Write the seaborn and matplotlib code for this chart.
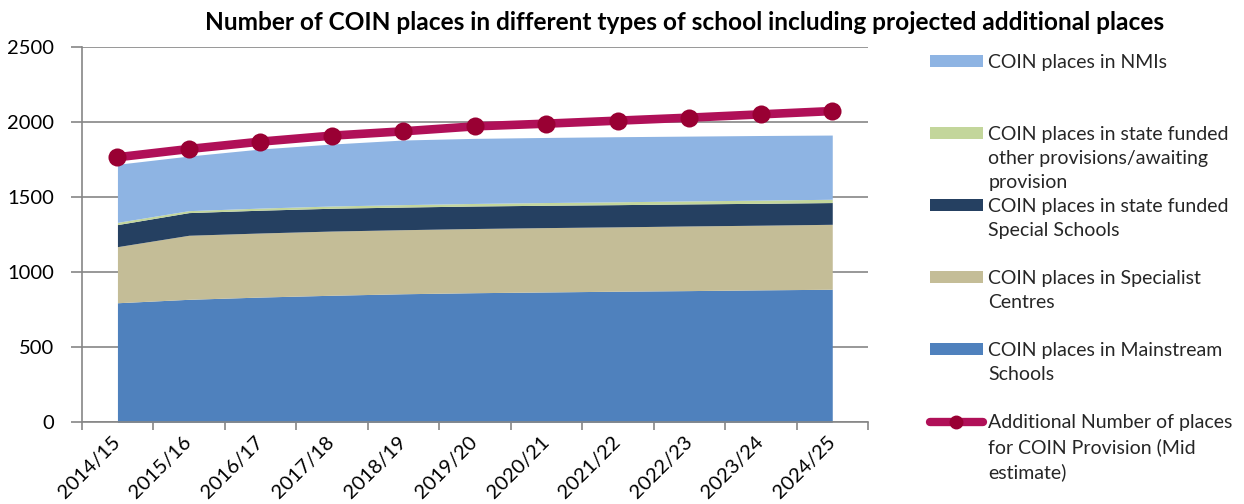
import numpy as np
import matplotlib
matplotlib.use("Agg")
import matplotlib.pyplot as plt
import seaborn as sns
from matplotlib.patches import Patch
from matplotlib.lines import Line2D

# ---------------- data ----------------
years = ["2014/15", "2015/16", "2016/17", "2017/18", "2018/19", "2019/20",
         "2020/21", "2021/22", "2022/23", "2023/24", "2024/25"]
mainstream = [797, 820, 835, 847, 857, 864, 869, 874, 878, 883, 887]
specialist = [374, 427, 427, 428, 427, 428, 429, 429, 431, 431, 433]
special_schools = [147, 151, 152, 152, 151, 150, 149, 148, 147, 146, 145]
other_provision = [15, 13, 14, 15, 16, 17, 18, 19, 20, 21, 22]
nmis = [387, 364, 394, 413, 431, 434, 434, 434, 432, 431, 428]
additional_mid = [1767, 1822, 1871, 1911, 1940, 1973, 1991, 2011, 2031, 2053, 2075]

label_mainstream = "COIN places in Mainstream\nSchools"
label_specialist = "COIN places in Specialist\nCentres"
label_special = "COIN places in state funded\nSpecial Schools"
label_other = "COIN places in state funded\nother provisions/awaiting\nprovision"
label_nmis = "COIN places in NMIs"
label_line = "Additional Number of places\nfor COIN Provision (Mid\nestimate)"
title = "Number of COIN places in different types of school including projected additional places"

# ---------------- style ----------------
c_main = "#4F81BD"
c_specialist = "#C4BD97"
c_special = "#254061"
c_other = "#C3D69B"
c_nmi = "#8EB4E3"
c_line = "#B01058"
c_marker = "#990033"
grey = "#868686"

sns.set_theme(style="ticks")
plt.rcParams["font.family"] = ["Lato", "DejaVu Sans"]

W, H = 1244, 504
fig = plt.figure(figsize=(W / 100, H / 100), dpi=100)
x0, x1, y0, y1 = 81.7, 868, 422.3, 47.3
ax = fig.add_axes([x0 / W, 1 - y0 / H, (x1 - x0) / W, (y0 - y1) / H])

x = np.arange(len(years))
ax.stackplot(x, mainstream, specialist, special_schools, other_provision, nmis,
             colors=[c_main, c_specialist, c_special, c_other, c_nmi],
             linewidth=0, zorder=2)
sns.lineplot(x=x, y=additional_mid, ax=ax, color=c_line, linewidth=6.2,
             marker="o", markersize=13, markerfacecolor=c_marker,
             markeredgecolor=c_marker, markeredgewidth=0, legend=False,
             zorder=5, solid_capstyle="butt")

ax.set_xlim(-0.5, len(years) - 0.5)
ax.set_ylim(0, 2500)
ax.set_yticks(np.arange(0, 2501, 500))
ax.yaxis.grid(True, color=grey, linewidth=1.2)
ax.xaxis.grid(False)
ax.set_axisbelow(True)

ax.set_xticks(x)
ax.set_xticklabels(years, rotation=45, ha="right", va="center",
                   rotation_mode="anchor")
ax.set_xticks(np.arange(-0.5, len(years), 1), minor=True)
ax.tick_params(axis="x", which="major", length=0, pad=12, labelsize=14.5,
               labelcolor="black")
ax.tick_params(axis="x", which="minor", length=6, width=1.2, color=grey,
               direction="out", bottom=True)
ax.tick_params(axis="y", which="major", length=8, width=1.2, color=grey,
               direction="out", pad=12, labelsize=14.5, labelcolor="black")

for s in ["top", "right"]:
    ax.spines[s].set_visible(False)
for s in ["left", "bottom"]:
    ax.spines[s].set_color(grey)
    ax.spines[s].set_linewidth(1.2)

fig.text(685 / W, 1 - 22 / H, title, ha="center", va="center",
         fontsize=17.6, fontweight="bold", color="black")

# ---------------- legend (handle aligned with first line of each label) --------
blank = Patch(facecolor="none", edgecolor="none")
entries = [
    (Patch(facecolor=c_nmi, edgecolor="none"), label_nmis),
    (Patch(facecolor=c_other, edgecolor="none"), label_other),
    (Patch(facecolor=c_special, edgecolor="none"), label_special),
    (Patch(facecolor=c_specialist, edgecolor="none"), label_specialist),
    (Patch(facecolor=c_main, edgecolor="none"), label_mainstream),
    (Line2D([], [], color=c_line, linewidth=6, marker="o", markersize=9,
            markerfacecolor=c_marker, markeredgecolor=c_marker,
            solid_capstyle="round"), label_line),
]
handles, labels = [], []
for h, lab in entries:
    lines = lab.split("\n")
    lines += [" "] * (3 - len(lines))
    for i, ln in enumerate(lines):
        handles.append(h if i == 0 else blank)
        labels.append(ln)

fig.legend(handles, labels, loc="upper left",
           bbox_to_anchor=(930 / W, 1 - 54 / H), bbox_transform=fig.transFigure,
           frameon=False, fontsize=14, handlelength=2.7, handleheight=0.55,
           handletextpad=0.3, labelspacing=0.36, borderpad=0, borderaxespad=0)

fig.savefig("out.png", dpi=100)
